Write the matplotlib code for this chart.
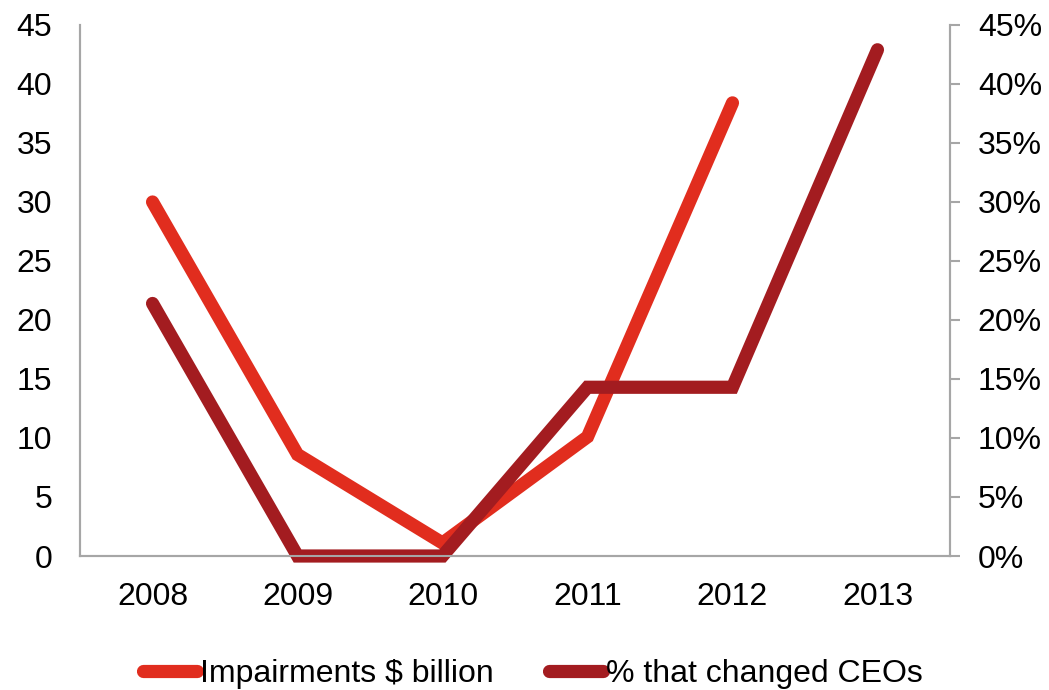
import matplotlib.pyplot as plt
import numpy as np

plt.rcParams['font.family'] = ['Liberation Sans', 'DejaVu Sans']

# 数据
years = ['2008', '2009', '2010', '2011', '2012', '2013']
impairments = [30.0, 8.6, 1.1, 10.1, 38.4, np.nan]       # $ billion
ceo_changed = [21.4, 0.0, 0.0, 14.3, 14.3, 42.9]          # %

red = '#E12D1E'
dark_red = '#A31C20'
grey = '#A6A6A6'

fig = plt.figure(figsize=(10.49, 6.9), dpi=100)
ax = fig.add_axes([0.0763, 0.1942, 0.8293, 0.7696])
ax2 = ax.twinx()

x = np.arange(len(years))
l1, = ax.plot(x, impairments, color=red, linewidth=9.5, solid_capstyle='round',
              solid_joinstyle='miter', label='Impairments $ billion')
l2, = ax2.plot(x, ceo_changed, color=dark_red, linewidth=9.5, solid_capstyle='round',
               solid_joinstyle='miter', label='% that changed CEOs')

ax.set_xlim(-0.5, 5.5)
ax.set_ylim(0, 45)
ax2.set_ylim(0, 45)
ax.set_yticks(range(0, 46, 5))
ax2.set_yticks(range(0, 46, 5))
ax2.set_yticklabels([f'{v}%' for v in range(0, 46, 5)])
ax.set_xticks(x)
ax.set_xticklabels(years)

for a in (ax, ax2):
    a.spines['top'].set_visible(False)
    for s in ('left', 'right', 'bottom'):
        a.spines[s].set_color(grey)
        a.spines[s].set_linewidth(1.5)
l1.set_clip_on(False)
l2.set_clip_on(False)

ax.tick_params(axis='y', length=0, labelsize=23, pad=20)
ax.tick_params(axis='x', length=0, labelsize=23, pad=19)
ax2.tick_params(axis='y', length=7, width=1.5, color=grey, labelsize=23, pad=13)

fig.legend(handles=[l1, l2], loc='center', bbox_to_anchor=(0.508, 0.023),
           ncol=2, frameon=False, fontsize=23, handlelength=1.7,
           handletextpad=0.1, columnspacing=1.7)

fig.savefig('out.png', dpi=100)
